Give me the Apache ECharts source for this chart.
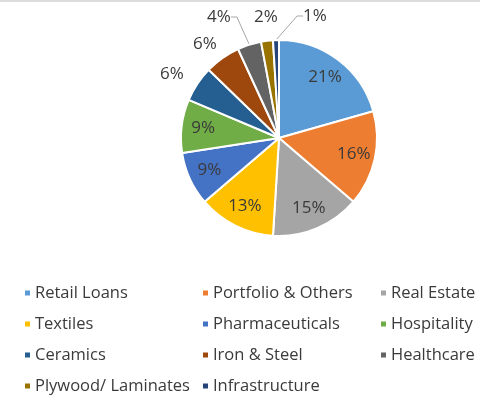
<!DOCTYPE html>
<html>
<head>
<meta charset="utf-8">
<script src="https://cdn.jsdelivr.net/npm/echarts@6/dist/echarts.min.js"></script>
<style>
  html, body { margin: 0; padding: 0; background: #fff; }
  #chart { width: 480px; height: 399px; }
</style>
</head>
<body>
<div id="chart"></div>
<script>
// Loan book split by sector (percent of total)
const sectors = [
  'Retail Loans', 'Portfolio & Others', 'Real Estate', 'Textiles',
  'Pharmaceuticals', 'Hospitality', 'Ceramics', 'Iron & Steel',
  'Healthcare', 'Plywood/ Laminates', 'Infrastructure'
];
const shares = [21, 16, 15, 13, 9, 9, 6, 6, 4, 2, 1];
const sectorColors = [
  '#5B9BD5', '#ED7D31', '#A5A5A5', '#FFC000', '#4472C4', '#70AD47',
  '#255E91', '#9E480E', '#636363', '#997300', '#264478'
];
// legend columns
const legendCols = [
  ['Retail Loans', 'Textiles', 'Ceramics', 'Plywood/ Laminates'],
  ['Portfolio & Others', 'Pharmaceuticals', 'Iron & Steel', 'Infrastructure'],
  ['Real Estate', 'Hospitality', 'Healthcare']
];
const insideCount = 6; // first six slices carry their label inside

const FONT = '"Open Sans", "Liberation Sans", Arial, sans-serif';
const CENTER = [279, 138];
const R = 98;

// where the small outside labels sit, relative to the pie centre
const outsideLabelOffset = {
  'Ceramics': [-107, -64],
  'Iron & Steel': [-74, -94],
  'Healthcare': [-60, -121],
  'Plywood/ Laminates': [-13, -121],
  'Infrastructure': [36, -122]
};
const withLeader = ['Healthcare', 'Infrastructure'];

const sliceData = sectors.map((n, i) => ({
  name: n, value: shares[i], itemStyle: { color: sectorColors[i] }
}));

const labelData = sectors.map((n, i) => ({
  name: n,
  value: shares[i],
  label: { show: true, position: i < insideCount ? 'inside' : 'outside' },
  labelLine: { show: withLeader.includes(n), length: 10, length2: 6 }
}));

const chart = echarts.init(document.getElementById('chart'));
chart.setOption({
  animation: false,
  color: sectorColors,
  graphic: [{
    type: 'rect', left: 0, top: 0,
    shape: { width: 480, height: 2 },
    style: { fill: '#dcdcdc' }, silent: true
  }],
  legend: legendCols.map((col, k) => ({
    data: col,
    orient: 'vertical',
    left: [18, 196, 374][k],
    top: 279,
    height: 130,
    itemWidth: 7,
    itemHeight: 7,
    itemGap: 13,
    icon: 'rect',
    selectedMode: false,
    textStyle: { fontFamily: FONT, fontSize: 16.5, color: '#3a3a3a', lineHeight: 18, padding: [0, 0, 0, -1] }
  })),
  series: [
    {
      type: 'pie',
      center: CENTER,
      radius: [0, R],
      startAngle: 90,
      clockwise: true,
      silent: true,
      label: { show: false },
      labelLine: { show: false },
      itemStyle: { borderColor: '#fff', borderWidth: 2 },
      emphasis: { disabled: true },
      data: sliceData
    },
    {
      type: 'pie',
      center: CENTER,
      radius: [49, R],
      startAngle: 90,
      clockwise: true,
      silent: true,
      itemStyle: { color: 'rgba(0,0,0,0)' },
      emphasis: { disabled: true },
      label: {
        formatter: '{c}%',
        fontFamily: FONT,
        fontSize: 17,
        color: '#3a3a3a'
      },
      labelLine: { lineStyle: { color: '#a6a6a6', width: 1 } },
      labelLayout: function (p) {
        const off = outsideLabelOffset[sectors[p.dataIndex]];
        if (!off) return {};
        return {
          x: CENTER[0] + off[0],
          y: CENTER[1] + off[1],
          align: 'center',
          verticalAlign: 'middle'
        };
      },
      data: labelData
    }
  ]
});
</script>
</body>
</html>
